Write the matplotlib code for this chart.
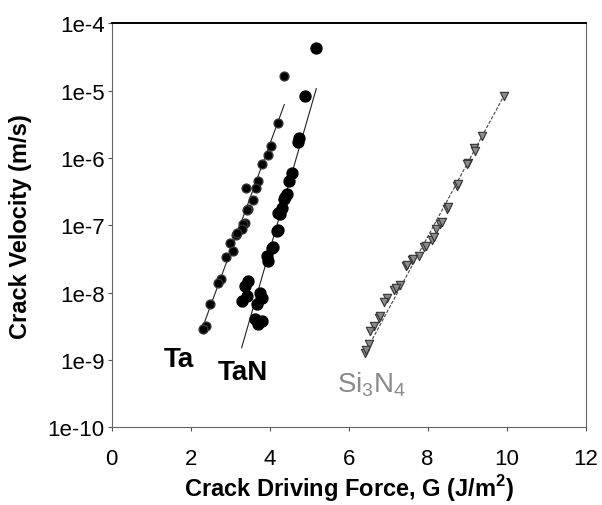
import math

import matplotlib
matplotlib.use("Agg")
import matplotlib.pyplot as plt
from matplotlib.ticker import FixedLocator, FuncFormatter

plt.rcParams["font.family"] = ["Liberation Sans", "DejaVu Sans"]
plt.rcParams["mathtext.fontset"] = "custom"
plt.rcParams["mathtext.rm"] = "Liberation Sans"
plt.rcParams["mathtext.bf"] = "Liberation Sans:bold"

# crack driving force G (J/m^2) and crack velocity (m/s)
ta_g = [4.37, 4.20, 4.03, 3.95, 3.80, 3.70, 3.65, 3.40, 3.59, 3.46, 3.42, 3.38,
        3.33, 3.29, 3.16, 3.18, 3.00, 3.08, 2.89, 2.78, 2.70, 2.49, 2.40, 2.32]
ta_v = [1.63e-5, 3.3e-6, 1.5e-6, 1.1e-6, 8.1e-7, 4.5e-7, 3.6e-7, 3.6e-7, 2.4e-7,
        1.75e-7, 1.7e-7, 1.08e-7, 1.04e-7, 8.7e-8, 7.3e-8, 7.8e-8, 5.5e-8, 4.1e-8,
        3.4e-8, 1.58e-8, 1.41e-8, 6.7e-9, 3.2e-9, 2.9e-9]

tan_g = [5.17, 4.90, 4.71, 4.74, 4.56, 4.49, 4.43, 4.39, 4.37, 4.31, 4.26, 4.22,
         4.20, 4.18, 4.09, 4.07, 3.93, 3.97, 3.46, 3.38, 3.76, 3.42, 3.29, 3.80,
         3.67, 3.63, 3.80, 3.71]
tan_v = [4.26e-5, 8.2e-6, 1.75e-6, 1.95e-6, 6.0e-7, 4.5e-7, 2.9e-7, 2.6e-7, 2.43e-7,
         1.83e-7, 1.47e-7, 1.54e-7, 8.5e-8, 8.3e-8, 4.7e-8, 4.6e-8, 3.5e-8, 3.0e-8,
         1.48e-8, 1.27e-8, 9.9e-9, 8.9e-9, 7.5e-9, 8.4e-9, 6.7e-9, 4.0e-9, 3.8e-9,
         3.4e-9]

si_g = [9.92, 9.38, 9.17, 9.19, 9.02, 9.00, 8.73, 8.78, 8.48, 8.52, 8.32, 8.36,
        8.22, 8.11, 8.15, 7.90, 7.95, 7.77, 7.60, 7.64, 7.44, 7.48, 7.31, 7.14,
        7.20, 6.97, 6.89, 6.76, 6.80, 6.63, 6.55, 6.51, 6.42, 6.45]
si_v = [8.2e-6, 2.1e-6, 1.43e-6, 1.28e-6, 8.3e-7, 8.1e-7, 3.85e-7, 4.1e-7, 1.75e-7,
        1.87e-7, 1.04e-7, 1.11e-7, 8.7e-8, 6.1e-8, 6.7e-8, 4.7e-8, 5.0e-8, 3.55e-8,
        3.1e-8, 3.2e-8, 2.5e-8, 2.6e-8, 1.32e-8, 1.11e-8, 1.19e-8, 8.4e-9, 7.2e-9,
        4.25e-9, 4.5e-9, 3.2e-9, 2.7e-9, 1.7e-9, 1.27e-9, 1.43e-9]

# fitted trend lines (end points)
ta_fit_g = [2.27, 4.37]
ta_fit_v = [2.7e-9, 6.2e-6]
tan_fit_g = [3.29, 5.18]
tan_fit_v = [1.52e-9, 1.07e-5]
si_fit_g = [6.42, 9.92]
si_fit_v = [1.3e-9, 8.2e-6]

x_ticks = [0, 2, 4, 6, 8, 10, 12]
y_ticks = [1e-10, 1e-9, 1e-8, 1e-7, 1e-6, 1e-5, 1e-4]


def sci_label(v, _pos):
    return f"1e{int(round(math.log10(v)))}"


fig = plt.figure(figsize=(6.02, 5.06), dpi=100)
ax = fig.add_axes([0.1855, 0.1535, 0.7874, 0.7985])

ax.plot(ta_fit_g, ta_fit_v, color="#222222", lw=0.8, zorder=2)
ax.plot(tan_fit_g, tan_fit_v, color="#222222", lw=0.8, zorder=2)
ax.plot(si_fit_g, si_fit_v, color="#444444", lw=0.8, ls=(0, (3, 1.5)), zorder=2)

ax.scatter(ta_g, ta_v, s=40, color="black", edgecolors="#333333", zorder=3)
ax.scatter(tan_g, tan_v, s=62, color="black", zorder=3)
ax.scatter(si_g, si_v, s=36, marker="v", color="#8a8a8a",
           edgecolors="#333333", linewidths=0.8, zorder=3)

ax.text(1.69, 8.1e-10, "Ta", fontsize=20, fontweight="bold", ha="center", va="baseline")
ax.text(3.33, 5.3e-10, "TaN", fontsize=20, fontweight="bold", ha="center", va="baseline")
ax.text(6.58, 3.4e-10, "Si$_3$N$_4$", fontsize=20, color="#8a8a8a",
        ha="center", va="baseline")

ax.set_yscale("log")
ax.set_xlim(0, 12)
ax.set_ylim(1e-10, 1e-4)
ax.xaxis.set_major_locator(FixedLocator(x_ticks))
ax.yaxis.set_major_locator(FixedLocator(y_ticks))
ax.yaxis.set_minor_locator(FixedLocator([]))
ax.yaxis.set_major_formatter(FuncFormatter(sci_label))
ax.tick_params(labelsize=16, length=3, width=0.8, color="#555555")
ax.tick_params(axis="x", pad=12)
ax.tick_params(axis="y", pad=2)

for side in ("left", "bottom", "right"):
    ax.spines[side].set_color("#666666")
    ax.spines[side].set_linewidth(0.8)
ax.spines["top"].set_color("black")
ax.spines["top"].set_linewidth(1.4)

ax.set_xlabel("Crack Driving Force, G (J/m$^\\mathbf{2}$)", fontsize=17,
              fontweight="bold", labelpad=2)
ax.set_ylabel("Crack Velocity (m/s)", fontsize=17, fontweight="bold", labelpad=11)

fig.savefig("out.png", dpi=100)
